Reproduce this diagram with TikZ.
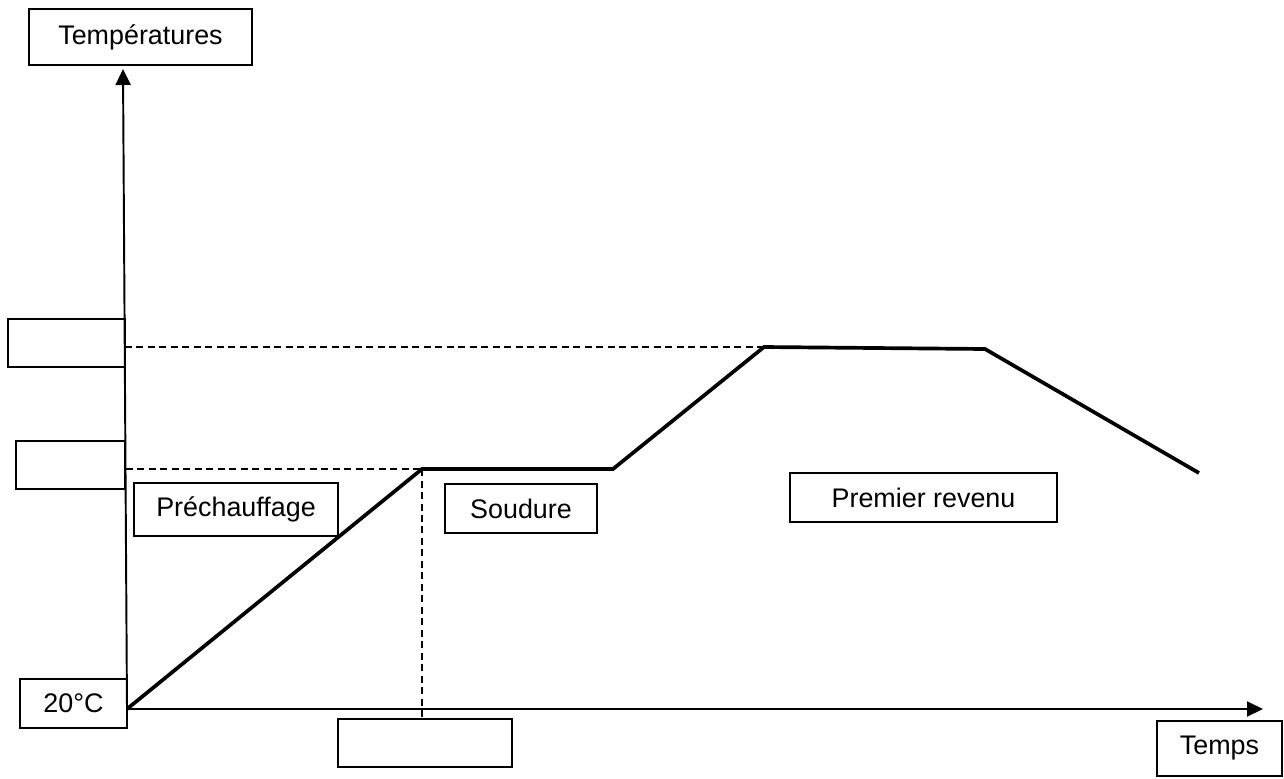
\documentclass[tikz,border=0pt]{standalone}
\usepackage{fontspec}
\setmainfont{Liberation Sans}
\usetikzlibrary{arrows.meta}
\tikzset{
  boite/.style={draw, line width=1.1pt, inner sep=0pt, font=\fontsize{15.3}{17}\selectfont},
  axe/.style={line width=1.1pt, -{Triangle[length=0.32cm, width=0.3cm]}},
  courbe/.style={line width=2.1pt, line join=miter},
  tirets/.style={line width=0.9pt, dash pattern=on 0.14cm off 0.09cm}
}
\begin{document}
\begin{tikzpicture}[x=0.02cm, y=-0.02cm]
\useasboundingbox (0,0) rectangle (1284,778);
% points du cycle
\coordinate (O) at (127,709);
\coordinate (ytop) at (123,69);
\coordinate (xend) at (1263,709);
\coordinate (A) at (422,469);
\coordinate (B) at (613,469);
\coordinate (C) at (764,347);
\coordinate (D) at (985,349);
\coordinate (E) at (1199,473);
\coordinate (yA) at (126,469);
\coordinate (yC) at (125,347);

% cases
\node[boite, minimum width=4.46cm, minimum height=1.12cm] (temp) at (140.5,37) {Températures\hspace{0.35cm}};
\node[boite, minimum width=2.34cm, minimum height=0.96cm] (tmax) at (66.5,343) {};
\node[boite, minimum width=2.18cm, minimum height=0.96cm] (tpre) at (70.5,465) {};
\node[boite, minimum width=4.08cm, minimum height=1.06cm] (prech) at (236,509.5) {Préchauffage};
\node[boite, minimum width=3.04cm, minimum height=0.98cm] (soud) at (521,508.5) {Soudure\hspace{0.15cm}};
\node[boite, minimum width=5.34cm, minimum height=0.98cm] (revenu) at (923.5,497.5) {Premier revenu};
\node[boite, minimum width=2.14cm, minimum height=0.98cm] (amb) at (73.5,703.5) {20°C\hspace{0.1cm}};
\node[boite, minimum width=3.48cm, minimum height=0.96cm] (duree) at (425,743) {};
\node[boite, minimum width=2.50cm, minimum height=1.10cm] (temps) at (1219.5,748.5) {Temps};

% axes
\draw[axe] (O) -- (ytop);
\draw[axe] (O) -- (xend);

% traits de rappel
\draw[tirets] (yC) -- (C);
\draw[tirets] (yA) -- (A);
\draw[tirets] (A) -- (A |- duree.north);

% cycle thermique
\draw[courbe] (O) -- (A) -- (B) -- (C) -- (D) -- (E);
\end{tikzpicture}
\end{document}
